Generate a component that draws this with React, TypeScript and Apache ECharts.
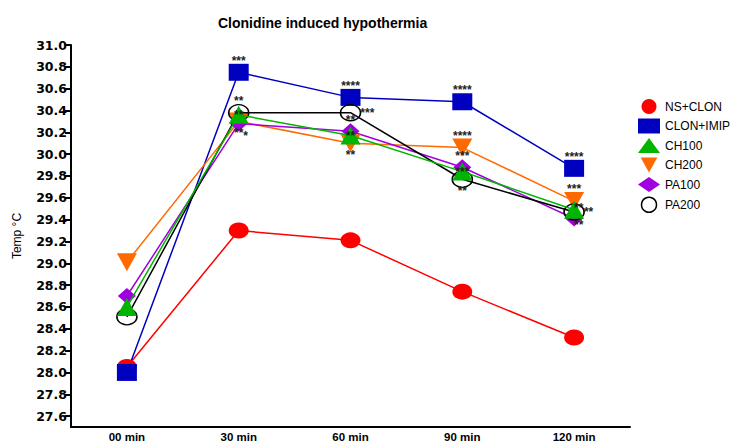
import React, { useEffect, useRef } from "react";
import * as echarts from "echarts";

const categories = ["00 min", "30 min", "60 min", "90 min", "120 min"];
const yTicks = [27.6, 27.8, 28.0, 28.2, 28.4, 28.6, 28.8, 29.0, 29.2, 29.4, 29.6, 29.8, 30.0, 30.2, 30.4, 30.6, 30.8, 31.0];

const nsClon = [28.05, 29.3, 29.21, 28.74, 28.32];
const clonImip = [28.0, 30.75, 30.52, 30.48, 29.87];
const ch100 = [28.6, 30.36, 30.17, 29.84, 29.49];
const ch200 = [29.01, 30.3, 30.1, 30.06, 29.57];
const pa100 = [28.7, 30.28, 30.21, 29.88, 29.41];
const pa200 = [28.51, 30.38, 30.38, 29.77, 29.47];

const nsClonStars = ["", "", "", "", ""];
const clonImipStars = ["", "***", "****", "****", "****"];
const ch100Stars = ["", "**", "**", "***", "**"];
const ch200Stars = ["", "**", "**", "****", "***"];
const pa100Stars = ["", "*", "**", "***", "**"];
const pa200Stars = ["", "**", "***", "**", "**"];

// annotation placement (style)
const clonImipPos: any[] = ["top", "top", "top", "top", "top"];
const ch100Pos: any[] = ["inside", "inside", "inside", "inside", ["50%", "15%"]];
const ch200Pos: any[] = ["bottom", "bottom", "bottom", "top", "top"];
const pa100Pos: any[] = ["bottom", ["75%", "100%"], "top", "top", ["50%", "65%"]];
const pa200Pos: any[] = ["top", "top", "right", "bottom", "right"];

export default function App() {
  const ref = useRef<HTMLDivElement>(null);
  useEffect(() => {
    if (!ref.current) return;
    const chart = echarts.init(ref.current, null, { renderer: "svg" });
    const font = "Liberation Sans, Arial, sans-serif";
    const mk = (name: string, values: number[], stars: string[], pos: any[], color: string, symbol: string, size: any, z = 2) => ({
      name,
      type: "line",
      data: values.map((v, i) => ({
        value: v,
        label: {
          show: !!stars[i],
          formatter: stars[i] || "",
          position: pos[i] || "top",
          distance: -1,
          fontSize: 12,
          fontWeight: "bold",
          lineHeight: 8,
          color: "#222",
          fontFamily: font,
        },
      })),
      symbol,
      symbolSize: size,
      showAllSymbol: true,
      lineStyle: { color, width: 1.5 },
      itemStyle: { color, borderWidth: 0 },
      z,
    });
    chart.setOption({
      animation: false,
      backgroundColor: "#fff",
      title: {
        text: "Clonidine induced hypothermia",
        left: 213,
        top: 11,
        textStyle: { fontSize: 14, fontWeight: "bold", fontFamily: font, color: "#000" },
      },
      legend: {
        orient: "vertical",
        left: 633,
        top: 94,
        itemWidth: 22,
        itemHeight: 15,
        itemGap: 4.5,
        textStyle: { fontSize: 12, fontFamily: font, color: "#000" },
        data: [
          { name: "NS+CLON", icon: "circle" },
          { name: "CLON+IMIP", icon: "rect" },
          { name: "CH100", icon: "triangle" },
          { name: "CH200", icon: "path://M0,0 L10,0 L5,9 Z" },
          { name: "PA100", icon: "diamond" },
          { name: "PA200", icon: "circle", itemStyle: { color: "#fff", borderColor: "#000", borderWidth: 1.5 } },
        ],
      },
      grid: { left: 71, right: 115, top: 45, bottom: 19, containLabel: false },
      xAxis: {
        type: "category",
        data: categories,
        boundaryGap: true,
        axisLine: { lineStyle: { color: "#000", width: 2 } },
        axisTick: { alignWithLabel: true, length: 5, lineStyle: { color: "#000", width: 2 } },
        axisLabel: { fontSize: 11.5, fontWeight: "bold", fontFamily: font, color: "#000", margin: 4 },
      },
      yAxis: {
        type: "value",
        min: 27.5,
        max: 31.0,
        name: "Temp °C",
        nameLocation: "middle",
        nameGap: 48,
        nameRotate: 90,
        nameTextStyle: { fontSize: 12, fontFamily: font, color: "#000" },
        splitLine: { show: false },
        axisLine: { show: true, lineStyle: { color: "#000", width: 2 } },
        axisTick: { show: true, length: 6, lineStyle: { color: "#000", width: 2 }, customValues: yTicks },
        axisLabel: {
          fontSize: 12.5,
          fontWeight: "bold",
          fontFamily: "DejaVu Sans, sans-serif",
          color: "#000",
          margin: 4,
          customValues: yTicks,
          formatter: (v: number) => v.toFixed(1),
        },
      },
      series: [
        mk("NS+CLON", nsClon, nsClonStars, clonImipPos, "#FF0000", "circle", [20, 16]),
        mk("CLON+IMIP", clonImip, clonImipStars, clonImipPos, "#0000C0", "rect", [20, 17]),
        mk("CH100", ch100, ch100Stars, ch100Pos, "#00B400", "triangle", [20, 18], 4),
        mk("CH200", ch200, ch200Stars, ch200Pos, "#FF6A00", "path://M0,0 L10,0 L5,9 Z", [20, 18]),
        mk("PA100", pa100, pa100Stars, pa100Pos, "#A000E0", "diamond", [18, 16]),
        {
          ...mk("PA200", pa200, pa200Stars, pa200Pos, "#000000", "circle", [20, 16], 3),
          itemStyle: { color: "rgba(255,255,255,0)", borderColor: "#000", borderWidth: 1.5 },
        },
      ],
    });
    return () => chart.dispose();
  }, []);
  return <div ref={ref} style={{ position: "fixed", left: 0, top: 0, width: 745, height: 446 }} />;
}
